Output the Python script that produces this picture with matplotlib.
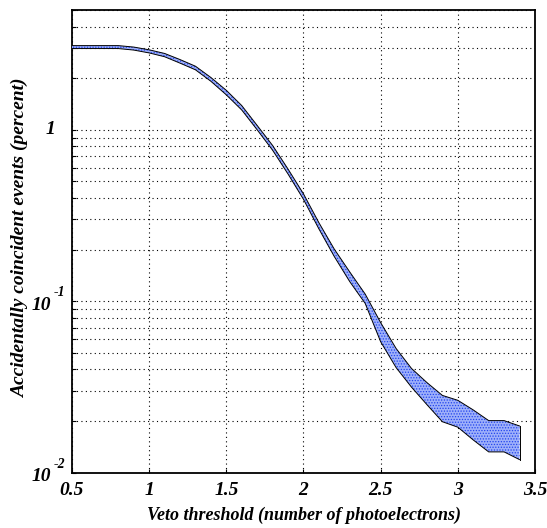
import numpy as np
import matplotlib
matplotlib.use("Agg")
import matplotlib.pyplot as plt
import matplotlib.transforms as mtransforms
from matplotlib.ticker import FixedLocator, LogLocator, NullFormatter

plt.rcParams["font.family"] = ["Liberation Serif", "DejaVu Serif"]
plt.rcParams["hatch.linewidth"] = 0.6

# veto threshold (photoelectrons)
threshold = [0.5, 0.6, 0.7, 0.8, 0.9, 1.0, 1.1, 1.2, 1.3, 1.4, 1.5, 1.6, 1.7, 1.8, 1.9,
             2.0, 2.1, 2.2, 2.3, 2.4, 2.5, 2.6, 2.7, 2.8, 2.9, 3.0, 3.1, 3.2, 3.3, 3.4]
# accidental coincidences (percent), upper and lower edge of band
upper = [3.10, 3.10, 3.10, 3.10, 3.04, 2.93, 2.79, 2.57, 2.35, 2.02, 1.70, 1.385, 1.06, 0.81, 0.59,
         0.423, 0.287, 0.201, 0.148, 0.110, 0.075, 0.053, 0.0405, 0.0335, 0.0282, 0.0264, 0.0232,
         0.0201, 0.0201, 0.0187]
lower = [2.98, 2.98, 2.98, 2.98, 2.92, 2.81, 2.67, 2.45, 2.24, 1.92, 1.60, 1.305, 1.0, 0.76, 0.552,
         0.393, 0.264, 0.182, 0.130, 0.097, 0.058, 0.041, 0.0315, 0.0249, 0.0198, 0.0184, 0.0155,
         0.0132, 0.0132, 0.0119]

x_ticks = [0.5, 1, 1.5, 2, 2.5, 3, 3.5]
x_ticklabels = ["0.5", "1", "1.5", "2", "2.5", "3", "3.5"]
y_ticks = [0.01, 0.1, 1]
y_exponents = ["-2", "-1", None]

fig = plt.figure(figsize=(5.47, 5.28), dpi=100)
ax = fig.add_axes([0.1316, 0.105, 0.8464, 0.876])

ax.fill_between(threshold, lower, upper, facecolor="#9eb0fa", edgecolor="#2244ee",
                hatch="......", linewidth=0, zorder=3)
ax.plot(threshold, upper, color="black", lw=0.7, zorder=4)
ax.plot(threshold, lower, color="black", lw=0.7, zorder=4)
ax.plot([threshold[-1], threshold[-1]], [lower[-1], upper[-1]], color="black", lw=0.7, zorder=4)

ax.set_yscale("log")
ax.set_xlim(0.5, 3.5)
ax.set_ylim(0.01, 5)

ax.xaxis.set_major_locator(FixedLocator(x_ticks))
ax.set_xticklabels(x_ticklabels, fontsize=14, fontweight="bold", fontstyle="italic")
ax.yaxis.set_major_locator(FixedLocator(y_ticks))
ax.set_yticklabels([""] * len(y_ticks))
ax.yaxis.set_minor_locator(LogLocator(base=10, subs=np.arange(2, 10)))
ax.yaxis.set_minor_formatter(NullFormatter())

# y tick labels drawn as "10" with a raised exponent
trans = mtransforms.blended_transform_factory(fig.transFigure, ax.transData)
for val, ex in zip(y_ticks, y_exponents):
    if ex is None:
        fig.text(50 / 547, val, "1", transform=trans, ha="center", va="center",
                 fontsize=14, fontweight="bold", fontstyle="italic")
    else:
        off = mtransforms.offset_copy(trans, fig=fig, y=-3, units="points")
        fig.text(51 / 547, val, "10", transform=off, ha="right", va="center",
                 fontsize=14, fontweight="bold", fontstyle="italic")
        up = mtransforms.offset_copy(trans, fig=fig, y=6, units="points")
        fig.text(54 / 547, val, ex, transform=up, ha="left", va="center",
                 fontsize=10, fontweight="bold", fontstyle="italic")

ax.tick_params(axis="both", which="both", direction="in", length=3, width=0.8)
ax.tick_params(axis="x", pad=7)

ax.grid(True, which="major", axis="x", color="black", linestyle=(0, (1, 3)), lw=0.8)
ax.grid(True, which="both", axis="y", color="black", linestyle=(0, (1, 3)), lw=0.8)

for s in ax.spines.values():
    s.set_linewidth(1.3)

fig.text(304 / 547, 1 - 515 / 528, "Veto threshold (number of photoelectrons)",
         ha="center", va="center", fontsize=13, fontweight="bold", fontstyle="italic")
fig.text(20 / 547, 1 - 238 / 528, "Accidentally coincident events (percent)",
         ha="center", va="center", rotation=90, fontsize=14, fontweight="bold",
         fontstyle="italic")

fig.savefig("out.png", dpi=100)
